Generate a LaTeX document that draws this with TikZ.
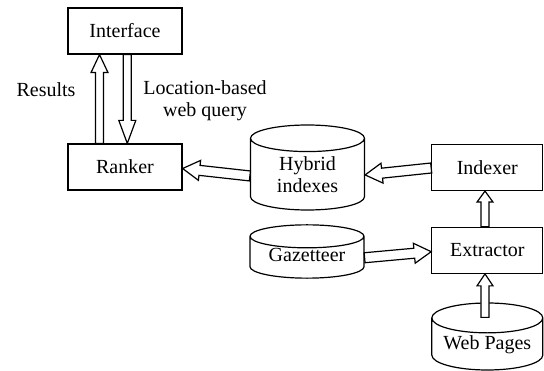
\documentclass[tikz,border=0pt]{standalone}
\usepackage{fontspec}
\setmainfont{Liberation Serif}
\usetikzlibrary{calc,shapes.geometric}

\tikzset{
  every node/.style={font=\fontsize{20pt}{22pt}\selectfont},
  box/.style={draw, line width=1.2pt, minimum width=114pt, minimum height=46pt, inner sep=0pt},
  store/.style={draw, line width=1.2pt, cylinder, shape border rotate=90, anchor=shape center,
    minimum width=114pt, inner sep=0pt, align=center},
  hollow/.style n args={3}{line width=1.2pt, fill=white, to path={
    let \p1=(\tikztostart), \p2=(\tikztotarget),
        \n1={atan2(\y2-\y1,\x2-\x1)}, \n2={veclen(\x2-\x1,\y2-\y1)} in
    {[shift={(\p1)}, rotate=\n1] (0pt,-#1) -- (\n2-#3,-#1) -- (\n2-#3,-#2) -- (\n2,0pt)
      -- (\n2-#3,#2) -- (\n2-#3,#1) -- (0pt,#1) -- cycle}}},
}

\begin{document}
\begin{tikzpicture}[x=1pt,y=-1pt]
	\useasboundingbox (0,0) rectangle (544,371);
	\clip (0,0) rectangle (544,371);
	% boxes
	\node[box] (interface) at (125,31) {Interface};
	\node[box] (ranker) at (125,167) {Ranker};
	\node[box, minimum width=111pt] (indexer) at (487.3,167.5) {Indexer};
	\node[box, minimum width=111pt] (extractor) at (487.3,250.3) {Extractor};
	% stores
	\node[store, aspect=0.435, minimum height=85pt] (hybrid) at (307.5,167.5) {Hybrid\\indexes};
	\node[store, aspect=0.3, minimum height=47pt, text depth=5pt] (gazetteer) at (307,251.5) {Gazetteer};
	\node[store, aspect=0.34, minimum width=111pt, minimum height=67pt] (web) at (487.3,336.5) {Web Pages};
	% labels
	\node (results) at (46,90) {Results};
	\node[align=center] (query) at (205,101) {Location-based\\web query};
	% arrows
	\draw[hollow={4pt}{8.5pt}{18pt}] ([xshift=-25.5pt]ranker.north) to ([xshift=-25.5pt]interface.south);
	\draw[hollow={4pt}{8.5pt}{23pt}] ([xshift=2.3pt]interface.south) to ([xshift=2.3pt]ranker.north);
	\draw[hollow={5pt}{10pt}{17pt}] ([yshift=-1.5pt]hybrid.west) to ([yshift=-1.5pt]ranker.east);
	\draw[hollow={5pt}{10pt}{17pt}] ([yshift=-0.5pt]indexer.west) to ([yshift=-0.5pt]hybrid.east);
	\draw[hollow={5pt}{10pt}{17pt}] ([yshift=-0.2pt]gazetteer.east) to ([yshift=-1.4pt]extractor.west);
	\draw[hollow={4pt}{8pt}{11pt}] ([xshift=-2.3pt]extractor.north) to ([xshift=-2.3pt]indexer.south);
	\draw[hollow={4pt}{8pt}{12pt}] ([xshift=-2.3pt,yshift=-15pt]web.north) to ([xshift=-2.3pt]extractor.south);
\end{tikzpicture}
\end{document}
